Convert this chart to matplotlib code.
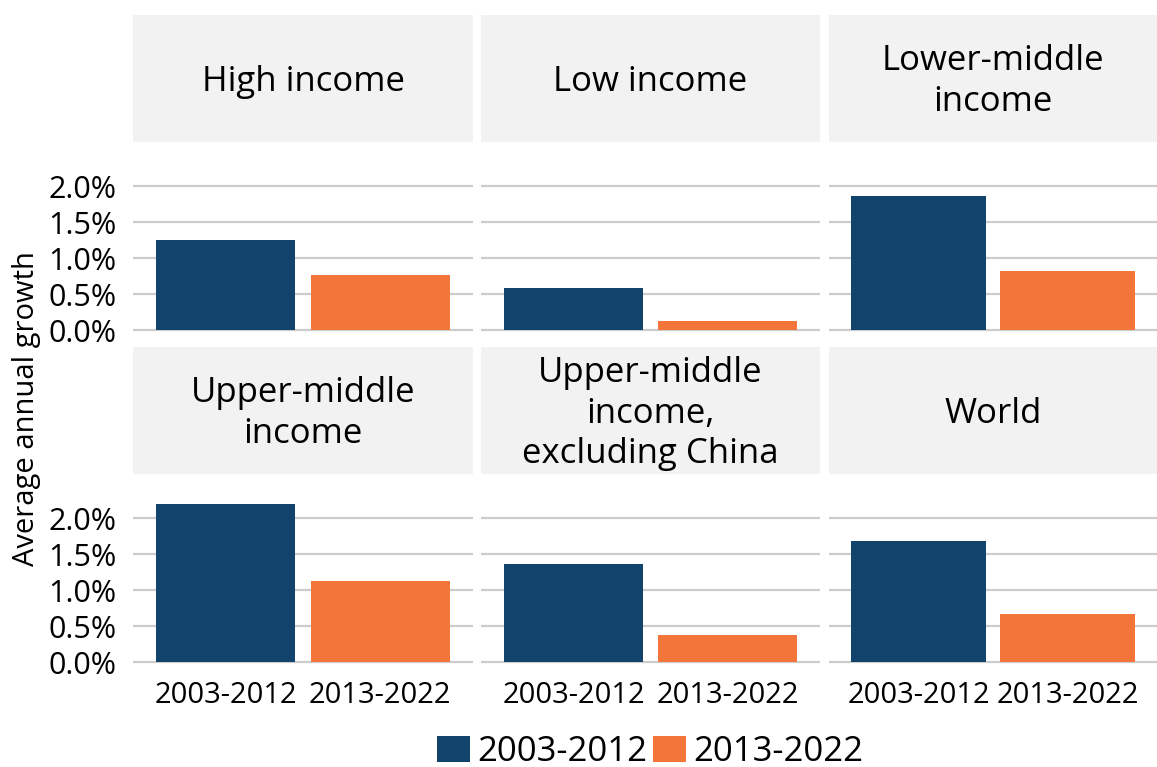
import numpy as np
import matplotlib
matplotlib.use('Agg')
import matplotlib.pyplot as plt
from matplotlib.patches import Patch
from matplotlib.ticker import FuncFormatter

plt.rcParams['font.family'] = ['Open Sans', 'DejaVu Sans']

# data (average annual growth, %)
groups = ['High income', 'Low income', 'Lower-middle\nincome',
          'Upper-middle\nincome', 'Upper-middle\nincome,\nexcluding China', 'World']
periods = ['2003-2012', '2013-2022']
growth_2003_2012 = [1.25, 0.58, 1.87, 2.20, 1.36, 1.68]
growth_2013_2022 = [0.76, 0.12, 0.82, 1.13, 0.38, 0.67]
yticks = [0.0, 0.5, 1.0, 1.5, 2.0]

colors = ['#12436D', '#F3753A']
W, H = 1157, 767

fig = plt.figure(figsize=(W / 100, H / 100), dpi=100)


def px_axes(x0, y0, x1, y1):
    # pixel box (top-left origin) -> figure axes
    return fig.add_axes([x0 / W, 1 - y1 / H, (x1 - x0) / W, (y1 - y0) / H])


col_x = [(133, 473), (481, 820), (829, 1157)]
row_y = [((15, 142), (142, 339)), ((347, 474), (474, 671))]

for i, name in enumerate(groups):
    r, c = divmod(i, 3)
    x0, x1 = col_x[c]
    (sy0, sy1), (py0, py1) = row_y[r]

    # strip
    sax = px_axes(x0, sy0, x1, sy1)
    sax.set_facecolor('#F2F2F2')
    sax.set_xticks([])
    sax.set_yticks([])
    for s in sax.spines.values():
        s.set_visible(False)
    sax.text(0.5, 0.475, name, ha='center', va='center', fontsize=25,
             linespacing=1.25, transform=sax.transAxes)

    # panel
    ax = px_axes(x0, py0, x1, py1)
    vals = [growth_2003_2012[i], growth_2013_2022[i]]
    ax.bar([1, 2], vals, width=0.9, color=colors, zorder=3)
    ax.set_xlim(0.4, 2.6)
    ax.set_ylim(-0.125, 2.62)
    ax.set_yticks(yticks)
    ax.grid(axis='y', color='#CCCCCC', linewidth=1.6, zorder=0)
    for s in ax.spines.values():
        s.set_visible(False)
    ax.tick_params(axis='y', length=0, labelsize=22, pad=12)
    if c == 0:
        ax.yaxis.set_major_formatter(FuncFormatter(lambda v, p: f'{v:.1f}%'))
    else:
        ax.set_yticklabels([])
    if r == 1:
        ax.set_xticks([1, 2])
        ax.set_xticklabels(periods)
        ax.tick_params(axis='x', length=0, labelsize=21, pad=7)
    else:
        ax.set_xticks([])

fig.text(27 / W, 1 - 409 / H, 'Average annual growth', rotation=90,
         ha='center', va='center', fontsize=21)

handles = [Patch(facecolor=col, edgecolor='none') for col in colors]
fig.legend(handles, periods, loc='center', bbox_to_anchor=(650 / W, 1 - 752 / H),
           ncol=2, frameon=False, fontsize=25, handlelength=0.95, handleheight=0.78,
           handletextpad=0.22, columnspacing=0.15, borderpad=0, borderaxespad=0)

fig.savefig('out.png', dpi=100)
